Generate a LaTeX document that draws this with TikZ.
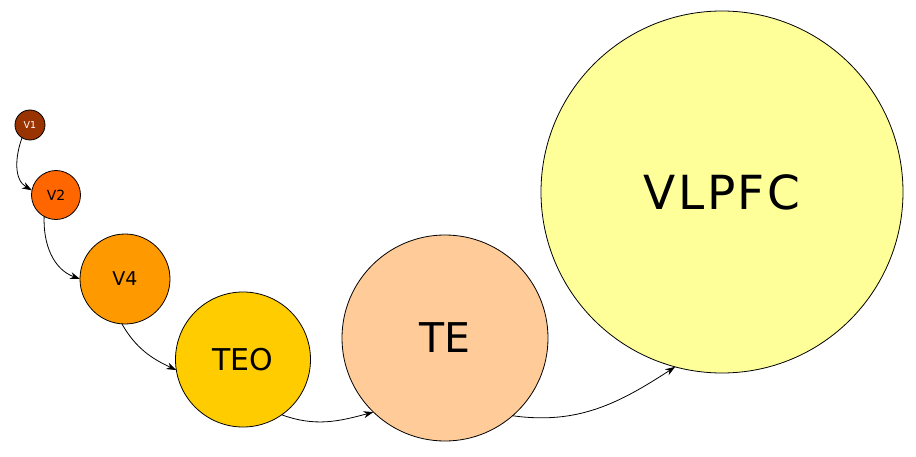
\documentclass[tikz,border=0pt]{standalone}
\usepackage{fontspec}
\setmainfont{DejaVu Sans}
\usetikzlibrary{arrows.meta}
\definecolor{cVone}{HTML}{993300}
\definecolor{cVtwo}{HTML}{FF6600}
\definecolor{cVfour}{HTML}{FF9900}
\definecolor{cTEO}{HTML}{FFCC00}
\definecolor{cTE}{HTML}{FFCC99}
\definecolor{cVLPFC}{HTML}{FFFF99}
\tikzset{
  area/.style={circle, draw=black, line width=0.8pt, inner sep=0pt, outer sep=0pt},
  link/.style={line width=0.8pt, -{Stealth[length=10pt,width=7pt]}},
}
\begin{document}
\begin{tikzpicture}[x=1pt,y=1pt]
\useasboundingbox (0,0) rectangle (916,456);
\node[area, fill=cVone, minimum size=30pt, text=white, font=\fontsize{9.5}{10}\selectfont] (v1) at (30,331) {V1};
\node[area, fill=cVtwo, minimum size=49pt, font=\fontsize{14}{15}\selectfont] (v2) at (56,261) {V2};
\node[area, fill=cVfour, minimum size=90pt, font=\fontsize{19}{20}\selectfont] (v4) at (125,177) {V4};
\node[area, fill=cTEO, minimum size=135pt, font=\fontsize{30}{32}\selectfont] (teo) at (243,96.5) {TEO};
\node[area, fill=cTE, minimum size=206pt, font=\fontsize{41}{44}\selectfont] (te) at (445,118) {TE};
\node[area, fill=cVLPFC, minimum size=362pt, font=\fontsize{47}{50}\selectfont] (vlpfc) at (722,264) {V\kern2.5pt L\kern2.5pt P\kern2.5pt F\kern2.5pt C};
\draw[link] (v1.238) to[out=250,in=150] (v2.169);
\draw[link] (v2.241) to[out=268,in=160] (v4.180);
\draw[link] (v4.266) to[out=300,in=155] (teo.189);
\draw[link] (teo.305) to[out=340,in=195] (te.226);
\draw[link] (te.311) to[out=352,in=213] (vlpfc.255);
\end{tikzpicture}
\end{document}
